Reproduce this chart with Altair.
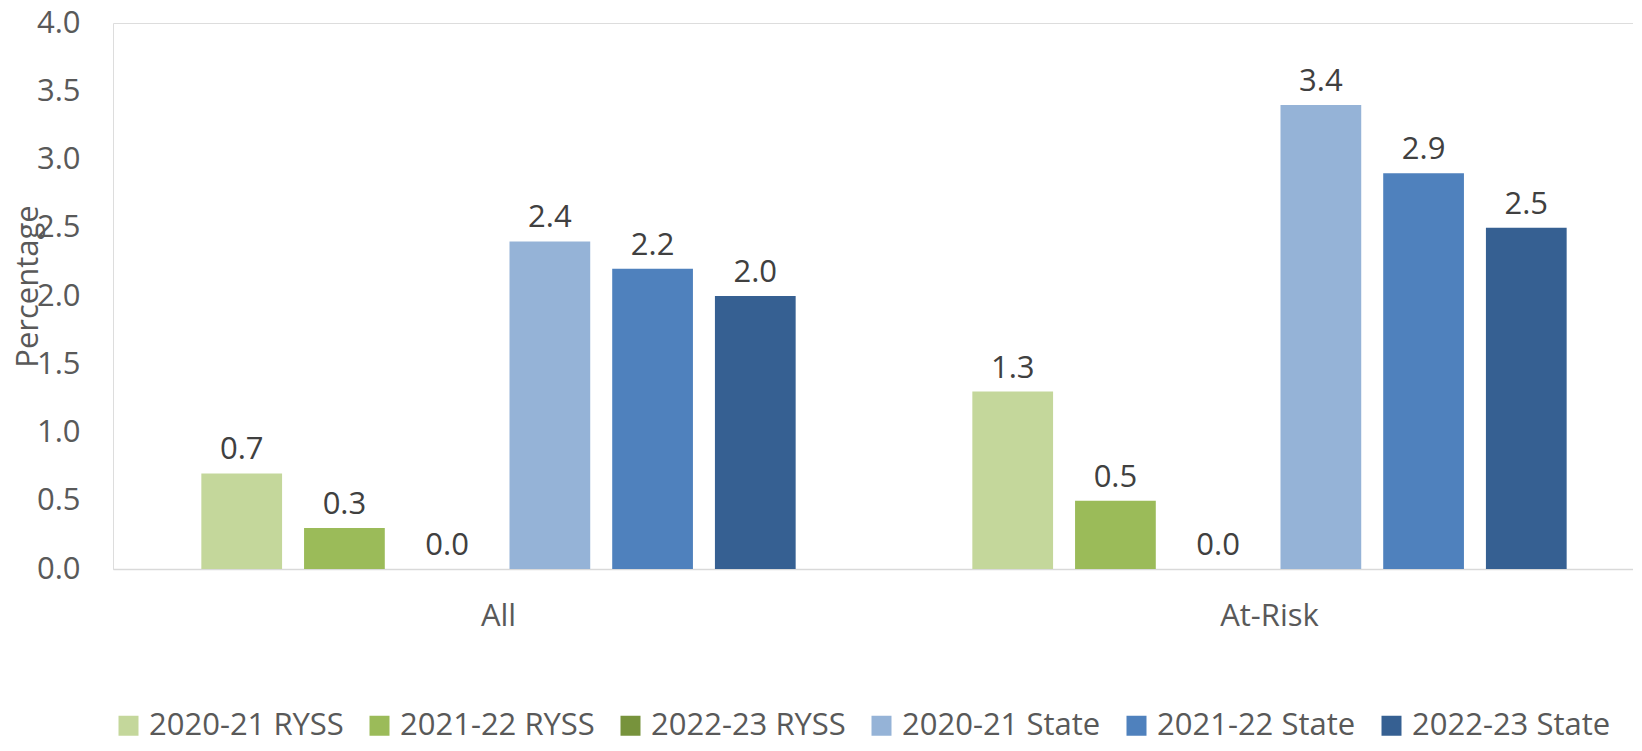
import altair as alt
import pandas as pd

groups = ["All", "At-Risk"]
series = ["2020-21 RYSS", "2021-22 RYSS", "2022-23 RYSS",
          "2020-21 State", "2021-22 State", "2022-23 State"]
all_values = [0.7, 0.3, 0.0, 2.4, 2.2, 2.0]
atrisk_values = [1.3, 0.5, 0.0, 3.4, 2.9, 2.5]
colors = ["#C4D79B", "#9BBB59", "#77933C", "#95B3D7", "#4F81BD", "#366092"]
y_ticks = [0.0, 0.5, 1.0, 1.5, 2.0, 2.5, 3.0, 3.5, 4.0]

rows = []
for s, v in zip(series, all_values):
    rows.append({"group": "All", "series": s, "value": v})
for s, v in zip(series, atrisk_values):
    rows.append({"group": "At-Risk", "series": s, "value": v})
df = pd.DataFrame(rows)

FONT = "Open Sans"
GRAY = "#595959"

x = alt.X("group:N", sort=groups, title=None,
          scale=alt.Scale(domain=groups, range=[0, 1542], paddingInner=0, paddingOuter=0),
          axis=alt.Axis(labelAngle=0, labelFont=FONT, labelFontSize=31, labelColor=GRAY,
                        labelPadding=32, ticks=False, domainColor="#D9D9D9", domainWidth=1.5,
                        grid=False))
xoff = alt.XOffset("series:N", sort=series,
                   scale=alt.Scale(domain=series, paddingInner=0.214, paddingOuter=0.86))
y = alt.Y("value:Q", title="Percentage",
          scale=alt.Scale(domain=[0, 4], nice=False, zero=True),
          axis=alt.Axis(values=y_ticks, format=".1f", labelFont=FONT, labelFontSize=31,
                        labelColor=GRAY, labelPadding=33, ticks=False, domain=False,
                        grid=False, titleFont=FONT, titleFontSize=31, titleColor=GRAY,
                        titleFontWeight="normal", titleAngle=270, titleX=-85, titleY=263,
                        titleAlign="center", titleBaseline="middle"))
color = alt.Color("series:N", sort=series,
                  scale=alt.Scale(domain=series, range=colors),
                  legend=alt.Legend(title=None, orient="none", legendX=0, legendY=687,
                                    direction="horizontal", columns=6, symbolType="square",
                                    symbolSize=400, symbolStrokeWidth=0, labelFont=FONT,
                                    labelFontSize=31, labelColor=GRAY, labelOffset=5,
                                    columnPadding=20, padding=0, labelLimit=400))

bars = alt.Chart(df).mark_bar().encode(x=x, xOffset=xoff, y=y, color=color)
labels = alt.Chart(df).mark_text(font=FONT, fontSize=31, color="#404040",
                                 baseline="alphabetic", dy=-14).encode(
    x=alt.X("group:N", sort=groups),
    xOffset=alt.XOffset("series:N", sort=series),
    y=alt.Y("value:Q"),
    text=alt.Text("value:Q", format=".1f"))

chart = alt.layer(bars, labels).properties(
    width=1520, height=546,
    autosize=alt.AutoSizeParams(type="none"),
    padding={"left": 105, "top": 15, "right": 0, "bottom": 167},
).configure_view(stroke=None).configure(background="white")

chart.save("out.html", embed_options={"renderer": "svg", "actions": False})
